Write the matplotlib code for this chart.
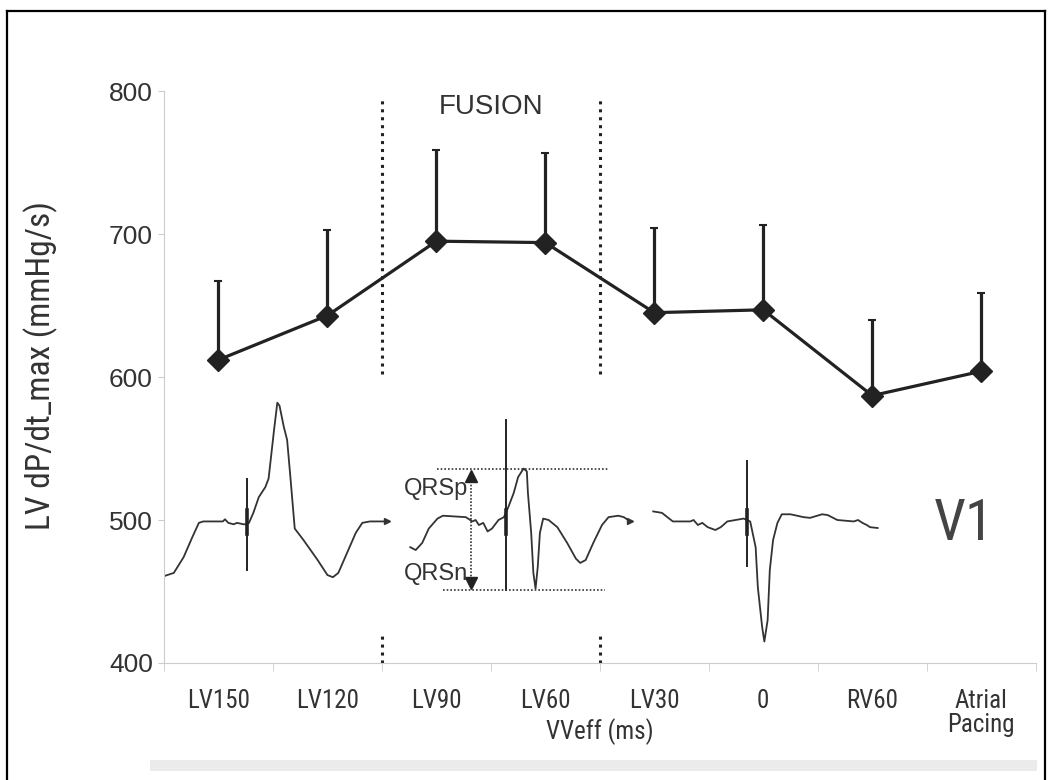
import matplotlib.pyplot as plt
from matplotlib import font_manager as fm
from matplotlib.lines import Line2D
from matplotlib.patches import Rectangle
import numpy as np

plt.rcParams['font.family'] = ['Liberation Sans', 'DejaVu Sans']

# look for a condensed sans face, the chart text is narrow
narrow_file = None
wanted = ['Liberation Sans Narrow', 'Roboto Condensed', 'Open Sans Condensed',
          'Noto Sans', 'DejaVu Sans', 'Open Sans', 'Roboto']
cands = []
for f in fm.fontManager.ttflist:
    st = f.stretch
    if isinstance(st, str):
        st = fm.stretch_dict.get(st, 500)
    if (st <= 400 or 'Narrow' in f.name or 'Condensed' in f.name) and f.style == 'normal':
        w = f.weight if isinstance(f.weight, int) else fm.weight_dict.get(f.weight, 400)
        if w == 400:
            rank = next((i for i, n in enumerate(wanted) if f.name.startswith(n)), 99)
            cands.append((rank, st, f.fname))
if cands:
    cands.sort()
    narrow_file = cands[0][2]


def narrow(size):
    if narrow_file:
        return fm.FontProperties(fname=narrow_file, size=size)
    return fm.FontProperties(family=['Liberation Sans', 'DejaVu Sans'], size=size)


# pacing modes and LV dP/dt max (mean and upper error bar end)
modes = ['LV150', 'LV120', 'LV90', 'LV60', 'LV30', '0', 'RV60', 'Atrial\nPacing']
means = [612, 643, 695, 694, 645, 647, 587, 604]
tops = [667, 703, 759, 757, 704, 706, 640, 659]

# V1 ECG traces, x in category units, y in mmHg/s units of the axis
ecg1_x = [-0.49, -0.41, -0.32, -0.24, -0.18, -0.14, 0.04, 0.06, 0.09, 0.14, 0.17, 0.23, 0.26,
          0.28, 0.32, 0.37, 0.43, 0.46, 0.51, 0.54, 0.56, 0.60, 0.63, 0.66, 0.70, 0.78, 0.91,
          1.00, 1.05, 1.10, 1.18, 1.26, 1.32, 1.39, 1.55]
ecg1_y = [461, 463, 474, 488, 498, 499, 499, 500.5, 498, 497, 498, 497, 497,
          498, 505, 516, 523, 529, 563, 582, 580, 565, 556, 530, 494, 486, 472,
          461.5, 460, 463, 477, 491, 498, 499, 499]
ecg2_x = [1.76, 1.81, 1.87, 1.93, 2.01, 2.06, 2.27, 2.29, 2.33, 2.36, 2.39, 2.43, 2.47, 2.51,
          2.57, 2.62, 2.66, 2.71, 2.75, 2.80, 2.83, 2.84, 2.87, 2.89, 2.91, 2.93, 2.95, 2.98,
          3.03, 3.11, 3.20, 3.28, 3.32, 3.37, 3.44, 3.52, 3.58, 3.67, 3.72, 3.78]
ecg2_y = [481, 479, 484, 494, 501, 503, 502, 501, 499, 500, 496.5, 498, 492, 494,
          500, 502, 509, 519, 530, 536, 534, 519, 491, 463, 452, 467, 491, 501,
          500, 495, 484, 473, 470, 472, 484, 496.5, 502, 503, 502, 499]
ecg3_x = [3.99, 4.07, 4.17, 4.33, 4.36, 4.40, 4.44, 4.49, 4.56, 4.61, 4.67, 4.82, 4.88, 4.93,
          4.95, 4.99, 5.01, 5.04, 5.06, 5.09, 5.13, 5.17, 5.25, 5.37, 5.43, 5.54, 5.59, 5.68,
          5.83, 5.87, 5.91, 5.95, 5.98, 6.05]
ecg3_y = [506, 505, 499, 499, 500, 496.5, 498, 495, 493, 495, 499, 501, 499, 481,
          453, 425, 415, 430, 465, 486, 498, 504, 504, 502, 501.5, 504, 503.5, 500,
          499, 500, 498, 496.5, 495, 494.4]
# pacing spikes: x, bottom, top
spikes = [(0.26, 465, 529), (2.64, 451, 570), (4.85, 468, 541)]

# QRS amplitude markers
qrs_p, qrs_n = 536, 451

fig = plt.figure(figsize=(10.54, 7.8), dpi=100)
ax = fig.add_axes([0.1556, 0.15, 0.827, 0.7333])

x = np.arange(len(modes))
err = np.array(tops) - np.array(means)
ax.errorbar(x, means, yerr=[np.zeros(len(x)), err], color='#222222', lw=2.3,
            marker='D', ms=11, elinewidth=2.3, capsize=3, capthick=1.5, zorder=5)

# fusion window
for xb in (1.5, 3.5):
    ax.plot([xb, xb], [602, 795], color='#222222', lw=2.2, ls=(0, (1, 1.6)))
    ax.plot([xb, xb], [400, 421], color='#222222', lw=2.2, ls=(0, (1, 1.6)))
ax.text(2.5, 789, 'FUSION', ha='center', va='center', fontsize=20, color='#333333')

# ECG
for ex, ey in ((ecg1_x, ecg1_y), (ecg2_x, ecg2_y), (ecg3_x, ecg3_y)):
    ax.plot(ex, ey, color='#333333', lw=1.3)
for ex, ey in ((ecg1_x, ecg1_y), (ecg2_x, ecg2_y)):
    ax.plot(ex[-1], ey[-1], marker='>', ms=4, color='#333333')
for sx, sb, st in spikes:
    ax.plot([sx, sx], [sb, st], color='#222222', lw=1.4)
    ax.plot([sx, sx], [490, 507], color='#222222', lw=2.6)

ax.plot([2.01, 3.58], [qrs_p, qrs_p], color='#333333', lw=1.2, ls=(0, (1, 1.2)))
ax.plot([2.06, 3.55], [qrs_n, qrs_n], color='#333333', lw=1.2, ls=(0, (1, 1.2)))
ax.plot([2.32, 2.32], [qrs_n + 5, qrs_p - 5], color='#333333', lw=1.2, ls=(0, (1, 1)))
ax.plot(2.32, qrs_p - 5, marker='^', ms=8, color='#222222')
ax.plot(2.32, qrs_n + 5, marker='v', ms=8, color='#222222')
ax.text(2.29, 522, 'QRSp', ha='right', va='center', fontsize=17, color='#333333')
ax.text(2.29, 462, 'QRSn', ha='right', va='center', fontsize=17, color='#333333')
ax.text(6.84, 497, 'V1', ha='center', va='center', fontproperties=narrow(41),
        color='#444444')

ax.set_xlim(-0.5, 7.5)
ax.set_ylim(400, 800)
ax.set_yticks([400, 500, 600, 700, 800])
ax.set_xticks(x)
ax.set_xticklabels(modes, fontproperties=narrow(18), color='#333333', linespacing=1.0)
ax.set_xticks(np.arange(-0.5, 8, 1), minor=True)
ax.tick_params(axis='x', which='major', length=0, pad=19)
ax.tick_params(axis='x', which='minor', length=6, color='#cccccc')
ax.tick_params(axis='y', length=4.5, color='#cccccc', labelsize=19, labelcolor='#333333', pad=3.5)
for s in ('top', 'right'):
    ax.spines[s].set_visible(False)
for s in ('left', 'bottom'):
    ax.spines[s].set_color('#cccccc')
ax.set_xlabel('VVeff (ms)', fontproperties=narrow(18), color='#333333')
ax.xaxis.set_label_coords(0.5, -0.096)
ax.set_ylabel('LV dP/dt_max (mmHg/s)', fontproperties=narrow(24), color='#333333')
ax.yaxis.set_label_coords(-0.122, 0.52)

# frame and grey strip
fig.add_artist(Line2D([7 / 1054, 7 / 1054], [0, 1 - 11 / 780], color='black', lw=1.6))
fig.add_artist(Line2D([7 / 1054, 1045 / 1054], [1 - 11 / 780, 1 - 11 / 780], color='black', lw=1.6))
fig.add_artist(Line2D([1045 / 1054, 1045 / 1054], [0, 1 - 11 / 780], color='black', lw=1.6))
fig.add_artist(Rectangle((150 / 1054, 1 - 771 / 780), 887 / 1054, 11 / 780,
                         facecolor='#ebebeb', edgecolor='none'))

fig.savefig('out.png', dpi=100)
